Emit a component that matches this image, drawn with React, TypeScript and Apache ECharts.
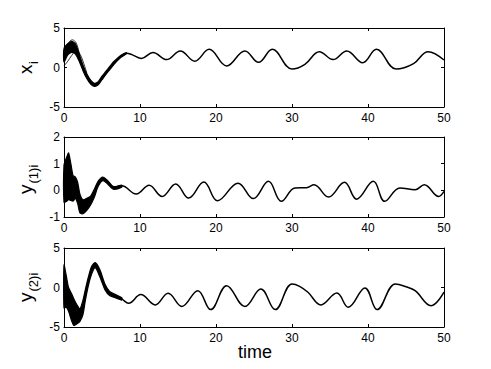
import React, { useEffect, useRef } from "react";
import * as echarts from "echarts";

// ---- Data ----
// Panel 1: x_i
const t1 = [0, 0.5, 1, 1.5, 2, 2.5, 3, 3.5, 4, 4.5, 5, 5.5, 6, 6.5, 7, 7.5, 8.2, 9, 10.2, 11.7, 13.5, 15.3, 17.2, 19.1, 21.4, 23.8, 25.6, 27.4, 30, 31.7, 33.6, 35.4, 37.2, 39.3, 41.1, 43.7, 46, 47.9, 50];
const x1 = [1.5, 2.4, 2.7, 2.5, 1.2, -0.1, -1.1, -1.9, -2.2, -2.0, -1.3, -0.7, -0.1, 0.5, 1.0, 1.4, 1.8, 1.6, 1.15, 1.9, 1.0, 2.1, 0.8, 2.3, 0.2, 2.1, 0.65, 2.3, -0.2, 0.4, 2.0, 1.0, 2.1, 0.6, 2.3, -0.2, 0.5, 2.0, 0.95];
const tBand1 = [0, 0.5, 1, 1.5, 2, 2.5, 3, 3.5, 4, 4.5, 5, 5.5, 6, 6.5, 7, 7.5, 8.2];
const lo1 = [0.7, 1.6, 1.9, 1.7, 0.8, -0.4, -1.4, -2.1, -2.4, -2.2, -1.55, -0.9, -0.3, 0.3, 0.85, 1.3, 1.72];
const hi1 = [2.4, 3.0, 3.3, 3.0, 1.7, 0.3, -0.8, -1.6, -2.0, -1.8, -1.1, -0.5, 0.1, 0.7, 1.15, 1.55, 1.88];
const tUp1 = [0, 0.5, 1.1, 1.6, 2.0];
const up1 = [2.2, 3.0, 3.5, 3.1, 1.8];
const tLow1 = [0, 0.5, 1, 1.6, 2.1, 2.6, 3.0];
const low1 = [0.2, 0.8, 1.5, 2.1, 1.7, 0.5, -0.7];

// Panel 2: y_(1)i
const t2 = [0, 0.3, 0.6, 0.9, 1.2, 1.5, 1.8, 2.1, 2.5, 3, 3.5, 4, 4.5, 5.1, 5.7, 6.7, 7.6, 9.5, 11.2, 12.9, 14.7, 16.4, 18.4, 20.2, 22.9, 24.9, 26.9, 28.6, 30.4, 31.9, 32.9, 34.8, 36.9, 38.5, 40.7, 42.2, 44.2, 46.2, 47.4, 49.3, 50];
const y2 = [0.2, 0.4, 0.6, 0.3, 0.1, 0.1, -0.1, -0.5, -0.6, -0.5, -0.4, -0.1, 0.25, 0.43, 0.32, 0.09, 0.17, -0.14, 0.19, -0.23, 0.24, -0.29, 0.31, -0.39, 0.27, -0.31, 0.34, -0.41, 0.09, 0.1, 0.21, -0.25, 0.3, -0.33, 0.34, -0.41, 0.09, 0.02, 0.21, -0.23, -0.04];
const tBand2 = [0, 0.3, 0.6, 0.9, 1.2, 1.5, 1.8, 2.1, 2.5, 3, 3.5, 4, 4.5, 5.1, 5.7, 6.5, 7.6];
const lo2 = [-0.45, -0.42, -0.35, -0.38, -0.4, -0.3, -0.5, -0.85, -0.88, -0.75, -0.55, -0.25, 0.15, 0.36, 0.25, 0.04, 0.12];
const hi2 = [0.95, 1.2, 1.4, 1.0, 0.55, 0.5, 0.3, -0.15, -0.35, -0.3, -0.22, 0.05, 0.35, 0.5, 0.38, 0.14, 0.2];

// Panel 3: y_(2)i
const t3 = [0, 0.3, 0.6, 1.0, 1.3, 1.7, 2.1, 2.5, 2.8, 3.2, 3.6, 4.1, 4.7, 5.4, 6.0, 6.9, 7.6, 8.5, 10.1, 12.0, 13.7, 15.5, 17.6, 19.3, 21.4, 23.8, 25.9, 27.8, 30.0, 31.0, 32.1, 33.8, 35.9, 37.4, 39.6, 41.2, 43.6, 45.0, 46.2, 48.3, 50];
const y3 = [0.5, -0.5, -1.5, -2.5, -3.1, -3.4, -3.5, -2.5, -1.0, 0.75, 2.1, 2.85, 1.85, 0.05, -0.75, -1.15, -1.45, -2.0, -0.9, -2.2, -0.73, -2.4, -0.4, -2.8, 0.23, -2.4, -0.2, -2.8, 0.45, 0.15, -0.6, -2.2, -0.7, -2.5, -0.06, -2.8, 0.45, 0.1, -0.4, -2.3, -0.6];
const tBand3 = [0, 0.3, 0.6, 1.0, 1.3, 1.7, 2.1, 2.5, 2.8, 3.2, 3.6, 4.1, 4.7, 5.4, 6.0, 6.9, 7.6];
const lo3 = [-2.6, -2.5, -3.0, -4.2, -4.8, -4.6, -4.3, -3.4, -1.7, 0.2, 1.6, 2.5, 1.4, -0.3, -1.0, -1.35, -1.6];
const hi3 = [2.85, 1.5, 0.0, -0.8, -1.45, -2.2, -2.7, -1.6, -0.3, 1.3, 2.6, 3.15, 2.3, 0.4, -0.5, -0.95, -1.3];

const xTicks = { min: 0, max: 50, interval: 10 };
const yRanges = [
  { min: -5, max: 5, interval: 5 },
  { min: -1, max: 2, interval: 1 },
  { min: -5, max: 5, interval: 5 },
];

const FONT = '"Liberation Sans", Arial, Helvetica, sans-serif';

const zip = (a: number[], b: number[]) => a.map((v, i) => [v, b[i]]);

export default function App() {
  const ref = useRef<HTMLDivElement>(null);
  useEffect(() => {
    if (!ref.current) return;
    const chart = echarts.init(ref.current, undefined, { renderer: "svg" });
    const grids = [
      { left: 64, top: 28, width: 380, height: 79 },
      { left: 64, top: 137, width: 380, height: 80 },
      { left: 64, top: 248, width: 380, height: 79 },
    ];
    const axLine = { show: true, onZero: false, lineStyle: { color: "#000", width: 1 } };
    const tick = { show: true, inside: true, length: 3, lineStyle: { color: "#000", width: 1 } };
    const xAxis: any[] = [];
    const yAxis: any[] = [];
    grids.forEach((g, i) => {
      xAxis.push({
        gridIndex: i, type: "value", ...xTicks, position: "bottom",
        axisLine: axLine, axisTick: tick, splitLine: { show: false },
        axisLabel: { color: "#000", fontSize: 12, fontFamily: FONT, margin: 5 },
      });
      xAxis.push({
        gridIndex: i, type: "value", ...xTicks, position: "top",
        axisLine: axLine, axisTick: tick, splitLine: { show: false },
        axisLabel: { show: false },
      });
      yAxis.push({
        gridIndex: i, type: "value", ...yRanges[i], position: "left",
        axisLine: axLine, axisTick: tick, splitLine: { show: false },
        axisLabel: { color: "#000", fontSize: 12, fontFamily: FONT, margin: 4 },
      });
      yAxis.push({
        gridIndex: i, type: "value", ...yRanges[i], position: "right",
        axisLine: axLine, axisTick: tick, splitLine: { show: false },
        axisLabel: { show: false },
      });
    });

    const line = (i: number, data: number[][], width = 1.5) => ({
      type: "line", xAxisIndex: i * 2, yAxisIndex: i * 2, data,
      showSymbol: false, symbol: "none", smooth: 0.4,
      lineStyle: { color: "#000", width }, z: 3,
    });
    // Filled spread of the trajectories between the lower and upper envelopes
    const band = (i: number, tb: number[], lo: number[], hi: number[]) => ({
      type: "custom", xAxisIndex: i * 2, yAxisIndex: i * 2, z: 2,
      data: [[tb[0], lo[0]]],
      renderItem: (_p: any, api: any) => {
        const upper = tb.map((t, k) => api.coord([t, hi[k]]));
        const lower = tb.map((t, k) => api.coord([t, lo[k]])).reverse();
        return {
          type: "polygon",
          shape: { points: upper.concat(lower), smooth: 0.25 },
          style: { fill: "#000", stroke: "#000", lineWidth: 1.2 },
        };
      },
    });

    const series: any[] = [
      band(0, tBand1, lo1, hi1),
      line(0, zip(tUp1, up1), 0.8),
      line(0, zip(tLow1, low1), 0.8),
      line(0, zip(t1, x1)),
      band(1, tBand2, lo2, hi2),
      line(1, zip(t2, y2)),
      band(2, tBand3, lo3, hi3),
      line(2, zip(t3, y3)),
    ];

    const yLabel = (x: number, y: number, main: string, sub: string, subDx: number) => ({
      type: "group", x, y, rotation: Math.PI / 2,
      children: [
        { type: "text", x: 0, y: 0, style: { text: main, font: `19px ${FONT}`, fill: "#000", align: "left", verticalAlign: "middle" } },
        { type: "text", x: subDx, y: 8, style: { text: sub, font: `13px ${FONT}`, fill: "#000", align: "left", verticalAlign: "middle" } },
      ],
    });

    chart.setOption({
      animation: false,
      backgroundColor: "#fff",
      grid: grids,
      xAxis, yAxis, series,
      graphic: [
        yLabel(25.5, 74, "x", "i", 10),
        yLabel(25.5, 194, "y", "(1)i", 10.5),
        yLabel(25.5, 302, "y", "(2)i", 10.5),
        { type: "text", x: 255, y: 343, style: { text: "time", font: `18px ${FONT}`, fill: "#000", align: "center", verticalAlign: "top" } },
      ],
    });
    return () => chart.dispose();
  }, []);
  return <div ref={ref} style={{ position: "fixed", left: 0, top: 0, width: 491, height: 369, background: "#fff" }} />;
}
